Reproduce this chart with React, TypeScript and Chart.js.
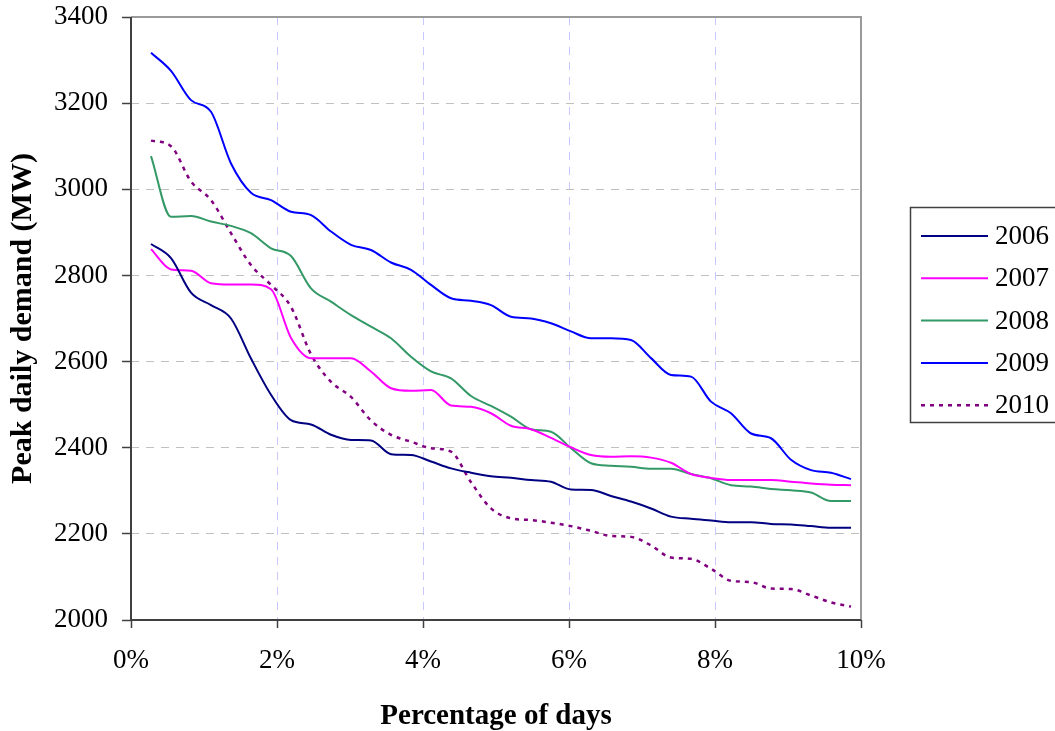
import React, { useEffect, useRef } from "react";
import { Chart, registerables } from "chart.js";

Chart.register(...registerables);

// Day rank (1 = highest-demand day) out of 365 days
const dayRanks = [1, 2, 3, 4, 5, 6, 7, 8, 9, 10, 11, 12, 13, 14, 15, 16, 17, 18, 19, 20, 21, 22, 23, 24, 25, 26, 27, 28, 29, 30, 31, 32, 33, 34, 35, 36];
const daysInYear = 365;

const seriesLabels = ["2006", "2007", "2008", "2009", "2010"];

const demand2006 = [2873, 2840, 2760, 2731, 2700, 2607, 2523, 2464, 2454, 2430, 2418, 2417, 2385, 2383, 2368, 2352, 2342, 2334, 2330, 2325, 2321, 2303, 2302, 2288, 2275, 2259, 2240, 2235, 2231, 2227, 2227, 2223, 2222, 2218, 2214, 2214];
const demand2007 = [2861, 2814, 2811, 2782, 2779, 2779, 2768, 2655, 2608, 2608, 2608, 2577, 2538, 2532, 2534, 2498, 2495, 2480, 2451, 2443, 2423, 2401, 2383, 2379, 2380, 2377, 2365, 2339, 2330, 2325, 2325, 2325, 2321, 2317, 2314, 2313];
const demand2008 = [3077, 2936, 2938, 2925, 2915, 2898, 2863, 2845, 2770, 2739, 2708, 2681, 2654, 2611, 2577, 2561, 2520, 2497, 2472, 2443, 2437, 2399, 2364, 2358, 2356, 2351, 2351, 2339, 2329, 2313, 2310, 2304, 2301, 2296, 2276, 2276];
const demand2009 = [3317, 3275, 3207, 3180, 3060, 2992, 2975, 2948, 2940, 2902, 2871, 2859, 2830, 2813, 2778, 2747, 2741, 2731, 2704, 2700, 2689, 2670, 2654, 2654, 2650, 2608, 2569, 2565, 2507, 2480, 2433, 2422, 2372, 2348, 2342, 2327];
const demand2010 = [3113, 3100, 3018, 2975, 2898, 2824, 2778, 2727, 2617, 2553, 2518, 2463, 2430, 2414, 2399, 2391, 2320, 2259, 2236, 2232, 2226, 2218, 2207, 2195, 2193, 2173, 2145, 2142, 2119, 2091, 2088, 2073, 2072, 2057, 2041, 2031];

const seriesColors = ["#000080", "#ff00ff", "#339966", "#0000ff", "#800080"];
const seriesDashes: number[][] = [[], [], [], [], [4, 5]];

const FONT = "'Liberation Serif', 'Times New Roman', serif";

const legendPlugin = {
  id: "boxLegend",
  afterDraw(chart: any) {
    const ctx = chart.ctx;
    const x0 = 910, y0 = 207, w = 160, h = 216;
    ctx.save();
    ctx.fillStyle = "#ffffff";
    ctx.fillRect(x0, y0, w, h);
    ctx.strokeStyle = "#404040";
    ctx.lineWidth = 1.5;
    ctx.strokeRect(x0 + 0.5, y0 + 0.5, w, h - 1);
    chart.data.datasets.forEach((ds: any, i: number) => {
      const cy = 236 + i * 42.3;
      ctx.beginPath();
      ctx.strokeStyle = ds.borderColor;
      ctx.lineWidth = ds.borderWidth;
      ctx.setLineDash(ds.borderDash || []);
      ctx.moveTo(921, cy);
      ctx.lineTo(988, cy);
      ctx.stroke();
      ctx.setLineDash([]);
      ctx.fillStyle = "#000";
      ctx.font = `27px ${FONT}`;
      ctx.textBaseline = "middle";
      ctx.textAlign = "left";
      ctx.fillText(ds.label, 995, cy + 1);
    });
    ctx.restore();
  },
};

const framePlugin = {
  id: "frame",
  afterDatasetsDraw(chart: any) {
    const { ctx, chartArea: a } = chart;
    ctx.save();
    ctx.setLineDash([]);
    ctx.lineWidth = 2;
    ctx.strokeStyle = "#9a9a9a";
    ctx.beginPath();
    ctx.moveTo(a.left, a.top);
    ctx.lineTo(a.right, a.top);
    ctx.lineTo(a.right, a.bottom);
    ctx.stroke();
    ctx.strokeStyle = "#404040";
    ctx.beginPath();
    ctx.moveTo(a.left, a.top);
    ctx.lineTo(a.left, a.bottom);
    ctx.lineTo(a.right, a.bottom);
    ctx.stroke();
    ctx.restore();
  },
};

export default function App() {
  const canvasRef = useRef<HTMLCanvasElement | null>(null);

  useEffect(() => {
    document.body.style.margin = "0";
    const allSeries = [demand2006, demand2007, demand2008, demand2009, demand2010];
    const datasets = allSeries.map((vals, i) => ({
      label: seriesLabels[i],
      data: vals.map((v, k) => ({ x: (dayRanks[k] / daysInYear) * 100, y: v })),
      borderColor: seriesColors[i],
      backgroundColor: seriesColors[i],
      borderWidth: i === 4 ? 2.5 : 2,
      borderDash: seriesDashes[i],
      pointRadius: 0,
      cubicInterpolationMode: "monotone",
      fill: false,
    }));

    const chart = new Chart(canvasRef.current as HTMLCanvasElement, {
      type: "line",
      data: { datasets },
      plugins: [framePlugin, legendPlugin],
      options: {
        animation: false,
        responsive: true,
        maintainAspectRatio: false,
        layout: { padding: { left: 0, top: 17, right: 194, bottom: 0 } },
        plugins: { legend: { display: false }, tooltip: { enabled: false } },
        scales: {
          x: {
            type: "linear",
            min: 0,
            max: 10,
            afterFit: (s: any) => { s.height = 111; s.paddingLeft = 0; s.paddingRight = 0; },
            ticks: {
              stepSize: 2,
              padding: 17,
              color: "#000",
              font: { family: FONT, size: 27 },
              callback: (v: any) => `${v}%`,
            },
            grid: {
              color: "#c8c8ff",
              lineWidth: 1,
              tickColor: "#404040",
              tickLength: 8,
              tickBorderDash: [],
              tickWidth: 1.5,
            },
            border: { display: false, dash: [8, 7] },
            title: {
              display: true,
              text: "Percentage of days",
              color: "#000",
              font: { family: FONT, size: 29, weight: "bold", lineHeight: 1 },
              padding: { top: 0, bottom: 0 },
            },
          },
          y: {
            min: 2000,
            max: 3400,
            afterFit: (s: any) => { s.width = 131; s.paddingTop = 0; s.paddingBottom = 0; },
            ticks: {
              stepSize: 200,
              padding: 14,
              color: "#000",
              font: { family: FONT, size: 27 },
              callback: (v: any) => String(v),
            },
            grid: {
              color: "#c0c0c0",
              lineWidth: 1,
              tickColor: "#404040",
              tickLength: 9,
              tickBorderDash: [],
              tickWidth: 1.5,
            },
            border: { display: false, dash: [8, 7] },
            title: {
              display: true,
              text: "Peak daily demand (MW)",
              color: "#000",
              font: { family: FONT, size: 30, weight: "bold", lineHeight: 1 },
              padding: { top: 8, bottom: 0 },
            },
          },
        },
      },
    });
    return () => chart.destroy();
  }, []);

  return (
    <div style={{ position: "absolute", left: 0, top: 0, width: 1055, height: 731, background: "#fff" }}>
      <canvas ref={canvasRef} />
    </div>
  );
}
